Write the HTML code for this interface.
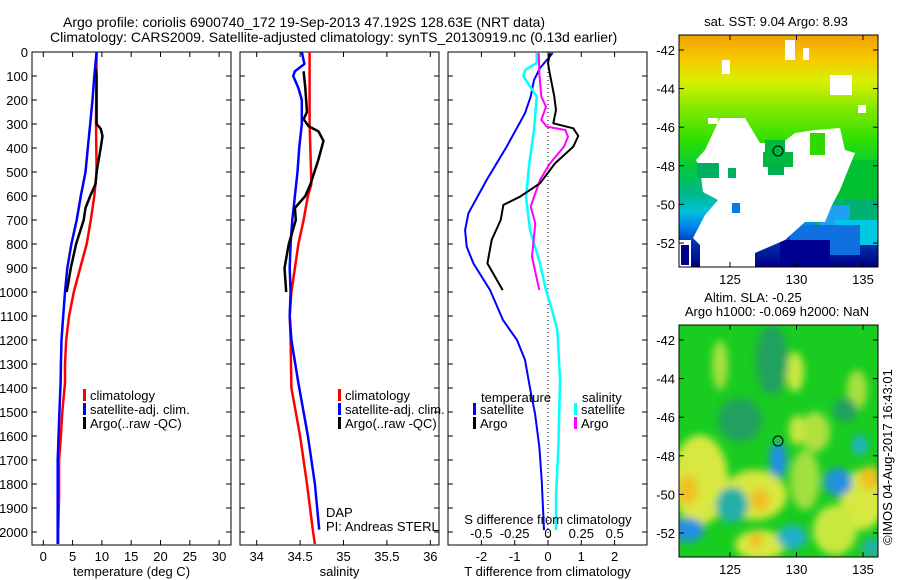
<!DOCTYPE html>
<html><head><meta charset="utf-8"><style>
html,body{margin:0;padding:0;background:#fff;}
svg{display:block;font-family:"Liberation Sans",sans-serif;}
text{font-size:13px;fill:#000;}
</style></head><body>
<svg id="fig" width="900" height="580" viewBox="0 0 900 580">
<defs>
<linearGradient id="sstGrad" x1="0" y1="0" x2="0" y2="1">
<stop offset="0" stop-color="#f0a000"/><stop offset="0.1" stop-color="#f8c800"/>
<stop offset="0.2" stop-color="#d8f000"/><stop offset="0.32" stop-color="#80e800"/>
<stop offset="0.45" stop-color="#30e000"/><stop offset="0.58" stop-color="#00c840"/>
<stop offset="0.68" stop-color="#00b888"/><stop offset="0.76" stop-color="#00c0d8"/>
<stop offset="0.83" stop-color="#0080f0"/><stop offset="0.9" stop-color="#0030b0"/>
<stop offset="1" stop-color="#000080"/></linearGradient>
<filter id="blur6"><feGaussianBlur stdDeviation="4"/></filter>
<clipPath id="clip1"><rect x="679" y="35" width="199" height="232"/></clipPath>
<clipPath id="clip2"><rect x="679" y="325" width="199" height="232"/></clipPath>
</defs>
<text x="63" y="27" style="font-size:14px">Argo profile: coriolis 6900740_172 19-Sep-2013 47.192S 128.63E (NRT data)</text>
<text x="50" y="42" style="font-size:14px">Climatology: CARS2009. Satellite-adjusted climatology: synTS_20130919.nc (0.13d earlier)</text>
<g id="p1"></g>
<g id="p2"></g>
<g id="p3"></g>

<!-- SST map -->
<g>
<text x="776" y="26" text-anchor="middle">sat. SST: 9.04 Argo: 8.93</text>
<g clip-path="url(#clip1)">
<rect x="679" y="35" width="199" height="232" fill="url(#sstGrad)"/>
<rect x="810" y="160" width="68" height="40" fill="#00c030"/>
<rect x="815" y="200" width="63" height="25" fill="#00b070"/>
<rect x="820" y="205" width="30" height="25" fill="#20a0f0"/>
<rect x="835" y="220" width="45" height="25" fill="#00c8e0"/>
<rect x="790" y="225" width="70" height="30" fill="#1070e0"/>
<rect x="780" y="240" width="50" height="27" fill="#000090"/>
<path d="M696,160 L705,150 L720,118 L745,118 L760,143 L782,143 L795,133 L815,130 L840,128 L845,150 L855,153 L848,170 L840,190 L832,205 L825,222 L805,222 L785,240 L755,253 L755,267 L700,267 L700,245 L693,238 L705,215 L718,200 L703,192 L700,168 Z" fill="#fff"/>
<rect x="765" y="140" width="20" height="22" fill="#00b840"/>
<rect x="763" y="152" width="30" height="15" fill="#00b840"/>
<rect x="768" y="165" width="16" height="10" fill="#00b050"/>
<rect x="810" y="133" width="15" height="22" fill="#30d800"/>
<rect x="697" y="163" width="22" height="15" fill="#00b060"/>
<rect x="728" y="168" width="8" height="10" fill="#00b060"/>
<rect x="732" y="203" width="8" height="10" fill="#0080f0"/>
<rect x="679" y="240" width="12" height="27" fill="#fff"/>
<rect x="681" y="245" width="8" height="10" fill="#000090"/>
<rect x="681" y="253" width="8" height="12" fill="#000090"/>
<rect x="722" y="60" width="8" height="14" fill="#fff"/>
<rect x="785" y="40" width="10" height="20" fill="#fff"/>
<rect x="803" y="48" width="6" height="12" fill="#fff"/>
<rect x="830" y="75" width="22" height="20" fill="#fff"/>
<rect x="858" y="105" width="8" height="8" fill="#fff"/>
<rect x="708" y="118" width="10" height="6" fill="#fff"/>
</g>
<circle cx="778" cy="151" r="5" fill="none" stroke="#000"/>
<rect x="679" y="35" width="199" height="232" fill="none" stroke="#000"/>
<g id="m1ticks"></g>
</g>

<!-- SLA map -->
<g>
<text x="753" y="302" text-anchor="middle">Altim. SLA: -0.25</text>
<text x="777" y="316" text-anchor="middle">Argo h1000: -0.069 h2000: NaN</text>
<g clip-path="url(#clip2)">
<rect x="679" y="325" width="199" height="232" fill="#18cc20"/>
<g filter="url(#blur6)">
<ellipse cx="700" cy="480" rx="28" ry="45" fill="#d8e840"/>
<ellipse cx="755" cy="495" rx="32" ry="25" fill="#d8e840"/>
<ellipse cx="688" cy="490" rx="10" ry="15" fill="#f0c020"/>
<ellipse cx="760" cy="500" rx="10" ry="12" fill="#f0c020"/>
<ellipse cx="760" cy="545" rx="25" ry="15" fill="#d8e840"/>
<ellipse cx="756" cy="540" rx="7" ry="8" fill="#f0c020"/>
<ellipse cx="862" cy="500" rx="22" ry="30" fill="#d8e840"/>
<ellipse cx="870" cy="478" rx="10" ry="12" fill="#f0c020"/>
<ellipse cx="835" cy="530" rx="22" ry="25" fill="#c8e840"/>
<ellipse cx="805" cy="480" rx="15" ry="30" fill="#a0e040"/>
<ellipse cx="815" cy="432" rx="15" ry="20" fill="#b0e040"/>
<ellipse cx="795" cy="372" rx="9" ry="20" fill="#c8e840"/>
<ellipse cx="797" cy="430" rx="8" ry="15" fill="#c8e840"/>
<ellipse cx="720" cy="365" rx="8" ry="25" fill="#a8e040"/>
<ellipse cx="857" cy="390" rx="10" ry="20" fill="#a8e040"/>
<ellipse cx="772" cy="360" rx="16" ry="35" fill="#20a060"/>
<ellipse cx="740" cy="420" rx="22" ry="22" fill="#20a060"/>
<ellipse cx="845" cy="410" rx="12" ry="12" fill="#20a060"/>
<ellipse cx="778" cy="460" rx="9" ry="18" fill="#2090e0"/>
<ellipse cx="838" cy="482" rx="14" ry="14" fill="#2090e0"/>
<ellipse cx="732" cy="505" rx="16" ry="18" fill="#20b0a8"/>
<ellipse cx="688" cy="530" rx="16" ry="12" fill="#2090e0"/>
<ellipse cx="792" cy="537" rx="15" ry="12" fill="#20b0c8"/>
<ellipse cx="860" cy="445" rx="8" ry="10" fill="#20b0c8"/>
<ellipse cx="872" cy="548" rx="10" ry="10" fill="#20b0a8"/>
</g>
</g>
<circle cx="778" cy="441" r="5" fill="none" stroke="#000"/>
<rect x="679" y="325" width="199" height="232" fill="none" stroke="#000"/>
<g id="m2ticks"></g>
</g>
<text transform="translate(892,545) rotate(-90)">©IMOS 04-Aug-2017 16:43:01</text>
</svg>
<script>
// ---------- data ----------
const tempClimDepth = [0,300,500,600,700,800,900,1000,1100,1200,1300,1380,1500,1600,1700,1850,2000,2050];
const tempClim      = [9.1,9.0,9.1,8.7,8.1,7.4,6.3,5.2,4.4,3.9,3.7,3.7,3.25,3.0,2.7,2.7,2.55,2.55];
const tempSatDepth  = [0,100,200,300,400,500,600,700,800,900,1000,1100,1200,1300,1380,1500,1700,2000,2050];
const tempSat       = [9.1,8.7,8.4,8.0,7.6,7.2,6.4,5.7,4.8,4.1,3.7,3.4,3.1,3.0,2.95,2.75,2.45,2.45,2.45];
const tempArgoDepth = [70,100,300,320,350,400,500,550,600,650,700,800,900,1000];
const tempArgo      = [9.0,9.1,9.1,9.8,10.1,9.8,9.1,8.9,8.0,7.2,6.9,5.6,4.7,4.0];

const salClimDepth = [0,300,550,600,700,800,900,1000,1100,1200,1400,1600,1800,2000,2050];
const salClim      = [34.61,34.61,34.63,34.59,34.54,34.48,34.44,34.40,34.38,34.39,34.40,34.50,34.58,34.65,34.67];
const salSatDepth  = [0,50,80,100,150,200,300,400,500,600,700,800,900,1000,1100,1200,1380,1600,1800,1990];
const salSat       = [34.52,34.55,34.44,34.42,34.48,34.52,34.52,34.49,34.47,34.44,34.41,34.39,34.38,34.39,34.38,34.40,34.48,34.59,34.67,34.72];
const salArgoDepth = [80,150,250,280,310,330,370,450,550,600,650,700,800,900,1000];
const salArgo      = [34.54,34.56,34.58,34.54,34.60,34.71,34.77,34.71,34.62,34.56,34.44,34.45,34.37,34.32,34.34];

const dTSatDepth  = [4,67,117,186,255,394,533,672,742,811,881,992,1117,1200,1283,1400,1506,1644,1783,1992];
const dTSat       = [0.14,-0.24,-0.42,-0.52,-0.69,-1.24,-1.84,-2.39,-2.49,-2.44,-2.24,-1.74,-1.35,-0.93,-0.69,-0.54,-0.39,-0.26,-0.19,-0.12];
const dTArgoDepth = [4,46,88,186,242,297,318,350,394,464,547,603,637,700,783,881,992];
const dTArgo      = [0.06,0.0,0.05,0.19,0.24,0.16,0.76,0.91,0.76,0.21,-0.24,-0.84,-1.34,-1.42,-1.69,-1.82,-1.36];
const dSSatDepth  = [4,46,74,101,143,186,325,464,603,742,881,992,1075,1158,1262,1367,1644,1853,1992];
const dSSat       = [-0.085,-0.085,-0.17,-0.185,-0.135,-0.085,-0.105,-0.14,-0.165,-0.135,-0.06,-0.015,0.03,0.07,0.08,0.09,0.078,0.06,0.06];
const dSArgoDepth = [4,88,186,228,283,311,325,353,394,464,533,644,714,853,992];
const dSArgo      = [-0.07,-0.065,-0.05,-0.015,-0.05,-0.01,0.13,0.15,0.12,0.015,-0.06,-0.13,-0.095,-0.12,-0.065];

const depthTicks = [0,100,200,300,400,500,600,700,800,900,1000,1100,1200,1300,1400,1500,1600,1700,1800,1900,2000];
const tempTicks = [0,5,10,15,20,25,30];
const salTicks = [34,34.5,35,35.5,36];
const dTTicks = [-2,-1,0,1,2];
const dSTicks = [-0.5,-0.25,0,0.25,0.5];
const dSTickLabels = ["-0.5","-0.25","0","0.25","0.5"];
const latTicks = [-42,-44,-46,-48,-50,-52];
const lonTicks = [125,130,135];

// ---------- scales ----------
const yD = d => 52 + 0.24*d;
const xT = t => 43.3 + 5.86*t;
const xS = s => 256.7 + 86.8*(s-34);
const xDT = t => 548 + 33.3*t;
const xDS = s => 548 + 133.3*s;
const NS = "http://www.w3.org/2000/svg";
function mk(tag, attrs, parent, txt){
  const e = document.createElementNS(NS, tag);
  for (const k in attrs) e.setAttribute(k, attrs[k]);
  if (txt !== undefined) e.textContent = txt;
  parent.appendChild(e); return e;
}
function line(p, vals, depths, xf, color, w, name){
  const d = vals.map((v,i)=>(i?'L':'M')+xf(v).toFixed(1)+','+yD(depths[i]).toFixed(1)).join(' ');
  const e = mk('path', {d:d, fill:'none', stroke:color, 'stroke-width':w, 'stroke-linejoin':'round'}, p);
  
  
}
function panel(p, x0, x1, xticks, xf, labels, title, showDepth){
  const top = 52, bot = 545;
  mk('rect', {x:x0, y:top, width:x1-x0, height:bot-top, fill:'none', stroke:'#000'}, p);
  depthTicks.forEach(d=>{
    const y = yD(d);
    mk('line', {x1:x0, x2:x0+5, y1:y, y2:y, stroke:'#000'}, p);
    mk('line', {x1:x1-5, x2:x1, y1:y, y2:y, stroke:'#000'}, p);
    if (showDepth){
      const t = mk('text', {x:28, y:y+5, 'text-anchor':'end'}, p, String(d));
      
      
    }
  });
  xticks.forEach((v,i)=>{
    const x = xf(v);
    mk('line', {x1:x, x2:x, y1:top, y2:top+5, stroke:'#000'}, p);
    mk('line', {x1:x, x2:x, y1:bot-5, y2:bot, stroke:'#000'}, p);
    const t = mk('text', {x:x, y:561, 'text-anchor':'middle'}, p, labels[i]);
    
    
  });
  const tt = mk('text', {x:(x0+x1)/2, y:576, 'text-anchor':'middle'}, p, title);
  
  
}
function legend(p, x, y, color, label){
  mk('rect', {x:x, y:y-9, width:3, height:12, fill:color}, p);
  const t = mk('text', {x:x+7, y:y+2}, p, label);
  
  
}
// panel 1
const p1 = document.getElementById('p1');
panel(p1, 32, 231, tempTicks, xT, tempTicks.map(String), 'temperature (deg C)', true);
line(p1, tempClim, tempClimDepth, xT, '#f00', 2.5, 'temp-climatology-line');
line(p1, tempSat, tempSatDepth, xT, '#00f', 2.5, 'temp-satellite-line');
line(p1, tempArgo, tempArgoDepth, xT, '#000', 2.5, 'temp-argo-line');
legend(p1, 83, 398, '#f00', 'climatology');
legend(p1, 83, 412, '#00f', 'satellite-adj. clim.');
legend(p1, 83, 426, '#000', 'Argo(..raw -QC)');
// panel 2
const p2 = document.getElementById('p2');
panel(p2, 240, 439, salTicks, xS, salTicks.map(String), 'salinity', false);
line(p2, salClim, salClimDepth, xS, '#f00', 2.5, 'sal-climatology-line');
line(p2, salSat, salSatDepth, xS, '#00f', 2.5, 'sal-satellite-line');
line(p2, salArgo, salArgoDepth, xS, '#000', 2.5, 'sal-argo-line');
legend(p2, 338, 398, '#f00', 'climatology');
legend(p2, 338, 412, '#00f', 'satellite-adj. clim.');
legend(p2, 338, 426, '#000', 'Argo(..raw -QC)');
mk('text', {x:326, y:517}, p2, 'DAP');
mk('text', {x:326, y:531}, p2, 'PI: Andreas STERL');
// panel 3
const p3 = document.getElementById('p3');
panel(p3, 448, 647, dTTicks, xDT, dTTicks.map(String), 'T difference from climatology', false);
mk('line', {x1:548, x2:548, y1:52, y2:545, stroke:'#000', 'stroke-dasharray':'1,3'}, p3);
line(p3, dTSat, dTSatDepth, xDT, '#00f', 2, 'dT-satellite-line');
line(p3, dSSat, dSSatDepth, xDS, '#0ff', 2.5, 'dS-satellite-line');
line(p3, dSArgo, dSArgoDepth, xDS, '#f0f', 2, 'dS-argo-line');
line(p3, dTArgo, dTArgoDepth, xDT, '#000', 2, 'dT-argo-line');
mk('text', {x:481, y:402}, p3, 'temperature');
mk('text', {x:582, y:402}, p3, 'salinity');
legend(p3, 473, 412, '#00f', 'satellite');
legend(p3, 473, 426, '#000', 'Argo');
legend(p3, 574, 412, '#0ff', 'satellite');
legend(p3, 574, 426, '#f0f', 'Argo');
mk('text', {x:548, y:524, 'text-anchor':'middle'}, p3, 'S difference from climatology');
dSTicks.forEach((v,i)=>{
  const t = mk('text', {x:xDS(v), y:538, 'text-anchor':'middle'}, p3, dSTickLabels[i]);
  
  
});
// maps ticks
const xLon = lo => 730 + 13.3*(lo-125);
function mapTicks(g, y0, y1, latY){
  latTicks.forEach(la=>{
    const y = latY(la);
    mk('line', {x1:679, x2:684, y1:y, y2:y, stroke:'#000'}, g);
    mk('line', {x1:873, x2:878, y1:y, y2:y, stroke:'#000'}, g);
    const t = mk('text', {x:675, y:y+5, 'text-anchor':'end'}, g, String(la));
    
    
  });
  lonTicks.forEach(lo=>{
    const x = xLon(lo);
    mk('line', {x1:x, x2:x, y1:y0, y2:y0+5, stroke:'#000'}, g);
    mk('line', {x1:x, x2:x, y1:y1-5, y2:y1, stroke:'#000'}, g);
    const t = mk('text', {x:x, y:y1+17, 'text-anchor':'middle'}, g, String(lo));
    
    
  });
}
mapTicks(document.getElementById('m1ticks'), 35, 267, la => 50 + 19.3*(-42-la));
mapTicks(document.getElementById('m2ticks'), 325, 557, la => 340 + 19.3*(-42-la));
</script>
</body></html>
